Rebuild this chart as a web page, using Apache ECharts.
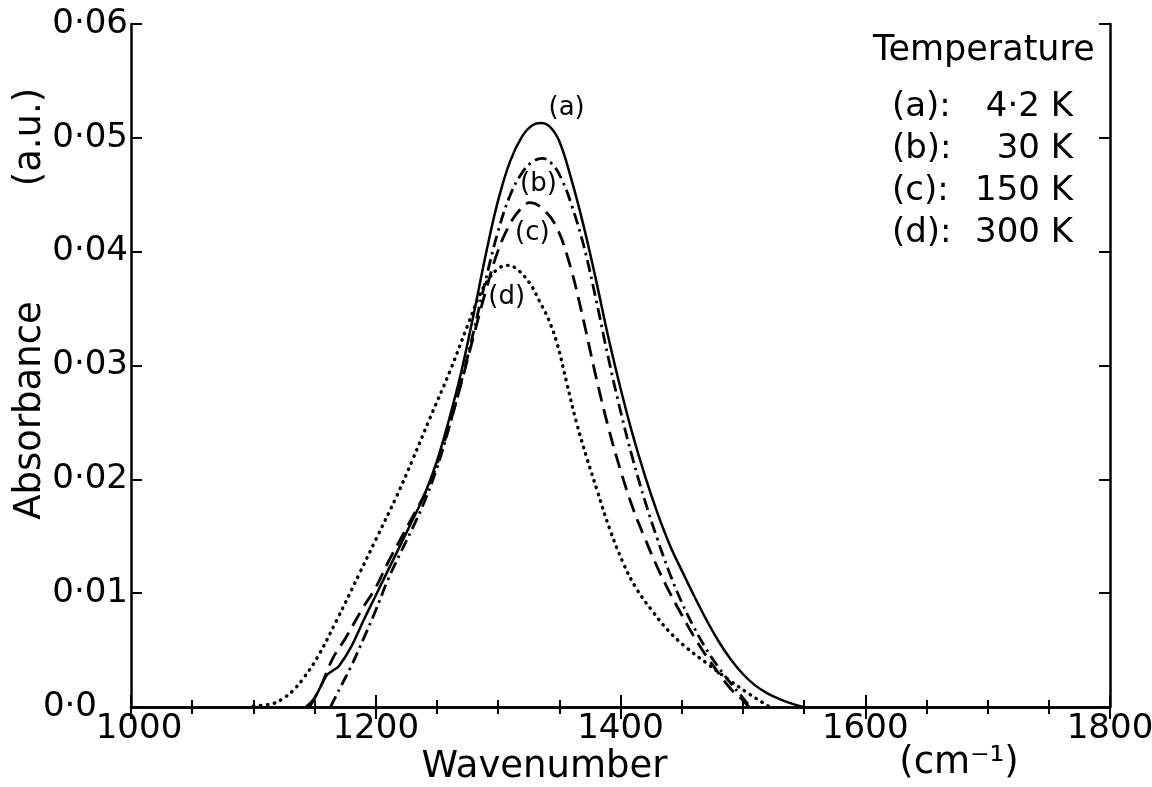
<!DOCTYPE html>
<html><head><meta charset="utf-8">
<script src="https://cdn.jsdelivr.net/npm/echarts@6/dist/echarts.min.js"></script>
<style>html,body{margin:0;padding:0;background:#fff}#c{width:1152px;height:787px}</style>
</head><body><div id="c"></div>
<script>
// ---- data ----
const wnA  = [1143,1150,1155,1160,1165,1170,1180,1190,1200,1210,1220,1230,1240,1250,1260,1270,1280,1290,1300,1310,1320,1328,1335,1342,1350,1360,1370,1380,1390,1400,1410,1420,1430,1440,1450,1460,1470,1480,1490,1500,1510,1520,1530,1540,1550];
const absA = [0,0.0008,0.0018,0.0028,0.0032,0.0036,0.0053,0.0076,0.0098,0.0120,0.0142,0.0164,0.0187,0.0216,0.0253,0.0295,0.0345,0.0398,0.0445,0.0480,0.0502,0.0511,0.0513,0.0510,0.0497,0.0463,0.0422,0.0375,0.0325,0.0280,0.0239,0.0203,0.0171,0.0143,0.0120,0.0098,0.0077,0.0058,0.0042,0.0029,0.0019,0.0012,0.0007,0.0003,0];

const wnB  = [1163,1170,1180,1190,1200,1210,1220,1230,1240,1250,1260,1270,1280,1290,1300,1310,1320,1328,1336,1345,1353,1360,1370,1380,1390,1400,1410,1420,1430,1440,1450,1460,1470,1480,1490,1500,1506];
const absB = [0,0.0015,0.0036,0.0060,0.0085,0.0112,0.0135,0.0157,0.0181,0.0210,0.0246,0.0286,0.0330,0.0376,0.0418,0.0450,0.0470,0.0479,0.0482,0.0476,0.0461,0.0441,0.0405,0.0358,0.0307,0.0260,0.0218,0.0181,0.0148,0.0118,0.0092,0.0070,0.0051,0.0035,0.0021,0.0008,0];

const wnC  = [1146,1155,1165,1175,1190,1200,1210,1220,1230,1240,1250,1260,1270,1280,1290,1300,1310,1318,1326,1337,1348,1359,1368,1380,1390,1400,1410,1420,1430,1440,1450,1460,1470,1480,1490,1500,1505];
const absC = [0,0.0018,0.0043,0.0060,0.0088,0.0105,0.0127,0.0147,0.0167,0.0187,0.0213,0.0247,0.0285,0.0326,0.0366,0.0401,0.0425,0.0437,0.0443,0.0437,0.0421,0.0387,0.0348,0.0290,0.0246,0.0208,0.0175,0.0148,0.0123,0.0101,0.0081,0.0062,0.0045,0.0030,0.0016,0.0006,0];

const wnD  = [1100,1116,1125,1132,1140,1152,1168,1187,1200,1217,1230,1244,1261,1275,1285,1293,1300,1307,1315,1326,1334,1341,1348,1356,1364,1373,1381,1391,1402,1413,1427,1440,1454,1471,1487,1503,1516,1522];
const absD = [0.0001,0.0003,0.0008,0.0014,0.0024,0.0043,0.0076,0.0118,0.0147,0.0185,0.0217,0.0253,0.0296,0.0335,0.0362,0.0377,0.0385,0.0388,0.0385,0.0372,0.0356,0.0341,0.0320,0.0285,0.0250,0.0217,0.0190,0.0157,0.0127,0.0104,0.0083,0.0066,0.0052,0.0038,0.0025,0.0013,0.0004,0];

const curveNames   = ['(a)','(b)','(c)','(d)'];
const yTickLabels  = ['0·0','0·01','0·02','0·03','0·04','0·05','0·06'];
const xTickValues  = [1000,1200,1400,1600,1800];
const legendTitle  = 'Temperature';
const legendKeys   = ['(a):','(b):','(c):','(d):'];
const legendTemps  = ['4·2 K','30 K','150 K','300 K'];

// ---- chart ----
const FONT = 'DejaVu Sans';
const pairs = (xs, ys) => xs.map((x, i) => [x, ys[i]]);
const chart = echarts.init(document.getElementById('c'), null, {renderer: 'canvas'});

const frameLine = {show: true, lineStyle: {color: '#000', width: 2.5}};
const xBase = {type: 'value', min: 1000, max: 1800, interval: 200,
  axisLine: frameLine, splitLine: {show: false},
  axisTick: {show: true, inside: true, length: 12, lineStyle: {color: '#000', width: 2}},
  minorTick: {show: true, splitNumber: 4, length: 7, lineStyle: {color: '#000', width: 2}},
  minorSplitLine: {show: false}};
const yBase = {type: 'value', min: 0, max: 0.06, interval: 0.01,
  axisLine: frameLine, splitLine: {show: false},
  axisTick: {show: true, inside: true, length: 11, lineStyle: {color: '#000', width: 2}}};

function labelMark(name, coord) {
  return {symbol: 'circle', symbolSize: 0, silent: true,
    label: {show: true, position: 'inside', formatter: name, color: '#000', fontSize: 26, fontFamily: FONT},
    data: [{coord: coord}]};
}

const styles = [
  {type: 'solid', width: 2.5},
  {type: [12, 5, 2.5, 5], width: 2.8},
  {type: [15, 8], width: 2.8},
  {type: [0.5, 6.5], width: 3.4, cap: 'round'}
];
const dataSets = [pairs(wnA, absA), pairs(wnB, absB), pairs(wnC, absC), pairs(wnD, absD)];
const labelCoords = [[1356, 0.0526], [1333, 0.0459], [1328, 0.0416], [1307, 0.0360]];

const series = dataSets.map((d, i) => ({
  name: curveNames[i], type: 'line', data: d, showSymbol: false, symbol: 'none',
  smooth: 0.4, xAxisIndex: 0, yAxisIndex: 0,
  lineStyle: Object.assign({color: '#000'}, styles[i]),
  markPoint: labelMark(curveNames[i], labelCoords[i])
}));

const graphics = [
  {type: 'text', left: 873, top: 33, style: {text: legendTitle, font: '35px ' + FONT, fill: '#000'}},
  {type: 'text', x: 30, y: 137, rotation: Math.PI / 2,
    style: {text: '(a.u.)', font: '37px ' + FONT, fill: '#000', align: 'center', verticalAlign: 'middle'}},
  {type: 'text', x: 959, y: 763,
    style: {text: '(cm⁻¹)', font: '37px ' + FONT, fill: '#000', align: 'center', verticalAlign: 'middle'}}
];
legendKeys.forEach((k, i) => {
  graphics.push({type: 'text', x: 892, y: 107 + i * 42,
    style: {text: k, font: '34px ' + FONT, fill: '#000', align: 'left', verticalAlign: 'middle'}});
  graphics.push({type: 'text', x: 1073, y: 107 + i * 42,
    style: {text: legendTemps[i], font: '34px ' + FONT, fill: '#000', align: 'right', verticalAlign: 'middle'}});
});

chart.setOption({
  animation: false,
  backgroundColor: '#fff',
  grid: {left: 131, right: 42, top: 24, bottom: 80, show: false, containLabel: false, outerBoundsMode: 'none'},
  xAxis: [
    Object.assign({}, xBase, {position: 'bottom',
      name: 'Wavenumber', nameLocation: 'middle', nameGap: 42, nameMoveOverlap: false,
      nameTextStyle: {fontSize: 37, fontFamily: FONT, color: '#000', padding: [0, 152, 0, 0]},
      axisLabel: {show: true, margin: 5, color: '#000', fontSize: 34, fontFamily: FONT,
        customValues: xTickValues,
        formatter: v => v === 1000 ? '{s|1000}' : String(v),
        rich: {s: {fontSize: 34, fontFamily: FONT, color: '#000', padding: [0, 0, 0, 16]}}}}),
    Object.assign({}, xBase, {position: 'top', axisLabel: {show: false}})
  ],
  yAxis: [
    Object.assign({}, yBase, {position: 'left',
      name: 'Absorbance', nameLocation: 'middle', nameGap: 82, nameRotate: 90, nameMoveOverlap: false,
      nameTextStyle: {fontSize: 37, fontFamily: FONT, color: '#000', padding: [0, 90, 0, 0]},
      axisLabel: {show: true, margin: 3, color: '#000', fontSize: 34, fontFamily: FONT,
        formatter: v => { const s = yTickLabels[Math.round(v * 100)]; return v === 0 ? '{z|' + s + '}' : s; },
        rich: {z: {fontSize: 34, fontFamily: FONT, color: '#000', padding: [0, 31, 0, 0]}}}}),
    Object.assign({}, yBase, {position: 'right', axisLabel: {show: false}})
  ],
  series: series,
  graphic: graphics
});
</script>
</body></html>
